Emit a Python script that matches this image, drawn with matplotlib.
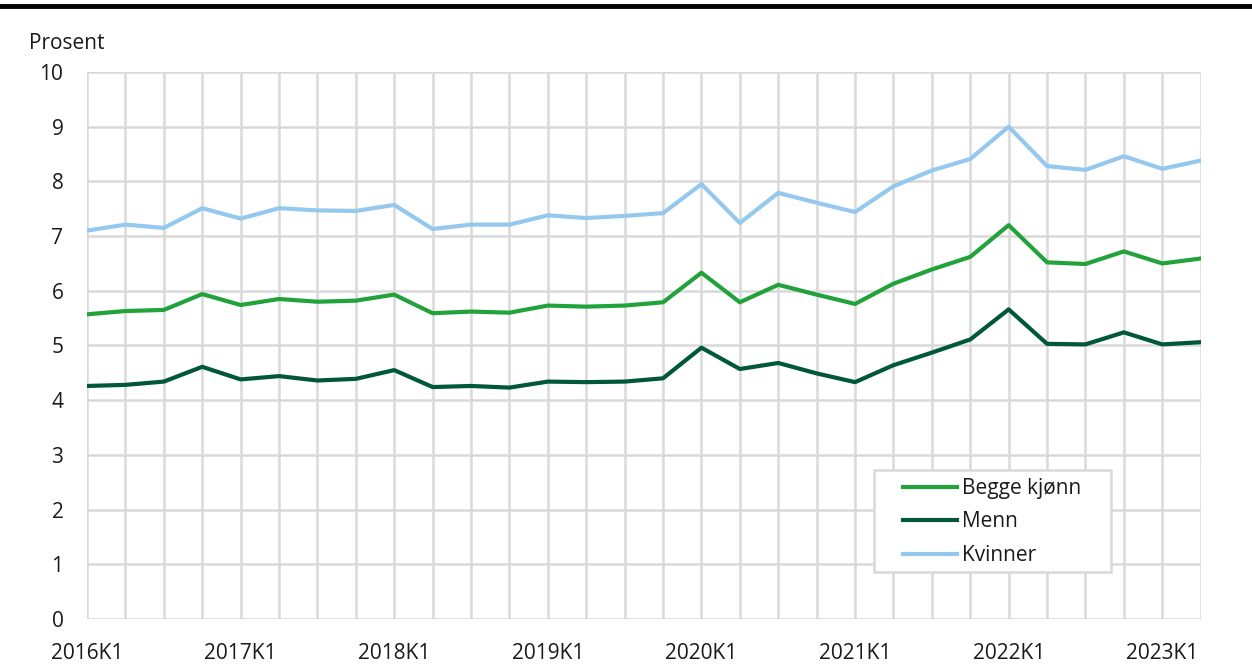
import matplotlib.pyplot as plt
from matplotlib.lines import Line2D
from matplotlib.patches import Rectangle

plt.rcParams['font.family'] = ['Open Sans', 'DejaVu Sans']

# kvartaler 2016K1 - 2023K2
quarters = [f"{y}K{q}" for y in range(2016, 2024) for q in range(1, 5)][:30]

begge = [5.57, 5.63, 5.65, 5.94, 5.74, 5.85, 5.80, 5.82, 5.93, 5.59,
         5.62, 5.60, 5.73, 5.71, 5.73, 5.79, 6.33, 5.79, 6.11, 5.93,
         5.76, 6.13, 6.39, 6.62, 7.20, 6.52, 6.49, 6.72, 6.50, 6.59]
menn = [4.26, 4.28, 4.34, 4.61, 4.38, 4.44, 4.36, 4.39, 4.55, 4.24,
        4.26, 4.23, 4.34, 4.33, 4.34, 4.40, 4.96, 4.57, 4.68, 4.49,
        4.33, 4.64, 4.87, 5.11, 5.66, 5.03, 5.02, 5.24, 5.02, 5.06]
kvinner = [7.10, 7.21, 7.15, 7.51, 7.32, 7.51, 7.47, 7.46, 7.57, 7.13,
           7.21, 7.21, 7.38, 7.33, 7.37, 7.42, 7.95, 7.24, 7.79, 7.61,
           7.44, 7.91, 8.20, 8.41, 9.00, 8.28, 8.21, 8.46, 8.23, 8.38]

fig = plt.figure(figsize=(12.52, 6.68), dpi=100)
ax = fig.add_axes([0.0695, 0.0734, 0.8895, 0.8188])

x = range(len(quarters))
ax.plot(x, begge, color='#22a23a', lw=3, label='Begge kjønn')
ax.plot(x, menn, color='#00573a', lw=3, label='Menn')
ax.plot(x, kvinner, color='#95c8ee', lw=3, label='Kvinner')

ax.set_xlim(0, len(quarters) - 1)
ax.set_ylim(0, 10)
ax.set_yticks(range(0, 11))
ax.set_xticks(list(x))
ax.set_xticklabels([q if q.endswith('K1') else '' for q in quarters])
ax.grid(True, color='#d9d9d9', lw=1.8)
ax.set_axisbelow(True)
for s in ax.spines.values():
    s.set_visible(False)
ax.tick_params(length=0, labelsize=15, colors='#1a1a1a')
ax.tick_params(axis='y', pad=17)
ax.tick_params(axis='x', pad=17)

ax.text(-0.052, 1.052, 'Prosent', transform=ax.transAxes, fontsize=15,
        ha='left', va='center', color='#1a1a1a')

# hvit boks bak legenden
ax.add_patch(Rectangle((0.7065, 0.0859), 0.2127, 0.1865, transform=ax.transAxes,
                       facecolor='white', edgecolor='#d9d9d9', lw=1.8, zorder=4))
leg = ax.legend(loc='upper left', bbox_to_anchor=(0.7325, 0.258), fontsize=15,
                frameon=False, handlelength=2.6, handletextpad=0.25,
                borderpad=0, labelspacing=0.6, borderaxespad=0)
leg.set_zorder(5)
for t in leg.get_texts():
    t.set_color('#1a1a1a')

# svart strek øverst
fig.add_artist(Line2D([0, 1], [0.991, 0.991], color='black', lw=3.5,
                      transform=fig.transFigure))

fig.savefig('out.png', dpi=100)
